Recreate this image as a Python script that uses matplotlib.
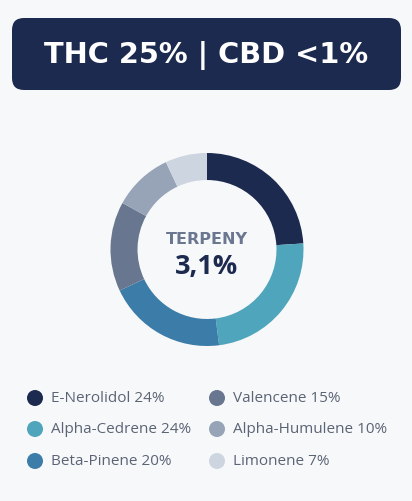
import numpy as np
import matplotlib.pyplot as plt
from matplotlib.patches import FancyBboxPatch, Circle

# data
names = ["E-Nerolidol", "Alpha-Cedrene", "Beta-Pinene", "Valencene", "Alpha-Humulene", "Limonene"]
shares = [24, 24, 20, 15, 10, 7]
colors = ["#1b2a4e", "#4fa5bb", "#3b7ca8", "#687690", "#97a3b6", "#cdd5e0"]
title = "THC 25% | CBD <1%"
center_label = "TERPENY"
center_value = "3,1%"

W, H = 412, 502
bg = "#f7f8fa"
navy = "#1b2a4e"

fig = plt.figure(figsize=(W / 100, H / 100), dpi=100, facecolor=bg)

# full-figure axes in pixel coords (y down)
base = fig.add_axes([0, 0, 1, 1])
base.set_xlim(0, W)
base.set_ylim(H, 0)
base.axis("off")
base.set_facecolor(bg)

# title banner
banner = FancyBboxPatch((12 + 12, 19 + 12), 389 - 24, 72 - 24,
                        boxstyle="round,pad=12", fc=navy, ec="none")
base.add_patch(banner)
base.text(206.5, 56, title, color="white", fontsize=20.8, fontweight="bold",
          family="DejaVu Sans", ha="center", va="center")

# donut
cx, cy, r = 207, 250.5, 96.5
pax = fig.add_axes([(cx - r) / W, (H - cy - r) / H, 2 * r / W, 2 * r / H])
pax.pie(shares, colors=colors, startangle=90, counterclock=False,
        wedgeprops=dict(width=0.28, edgecolor="none"))
pax.set_xlim(-1, 1)
pax.set_ylim(-1, 1)
pax.set_aspect("equal")
pax.axis("off")

base.text(cx, 239.5, center_label, color="#6b7790", fontsize=11.5, fontweight="bold",
          family="DejaVu Sans", ha="center", va="center")
base.text(cx, 267.5, center_value, color=navy, fontsize=19.5, fontweight="bold",
          family="Open Sans", ha="center", va="center")

# legend, two columns of three
col_x = [35, 217]
row_y = [399, 430, 462]
for i, (n, s, c) in enumerate(zip(names, shares, colors)):
    x = col_x[i // 3]
    y = row_y[i % 3]
    base.add_patch(Circle((x, y), 8, fc=c, ec="none"))
    base.text(x + 16, y, f"{n} {s}%", color="#5b6475", fontsize=11,
              family="Open Sans", ha="left", va="center")

fig.savefig("out.png", dpi=100, facecolor=bg)
